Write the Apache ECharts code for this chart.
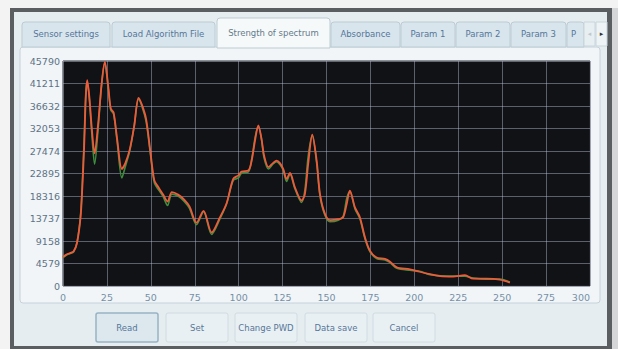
<!DOCTYPE html>
<html><head><meta charset="utf-8">
<script src="https://cdn.jsdelivr.net/npm/echarts@6/dist/echarts.min.js"></script>
<style>html,body{margin:0;padding:0;background:#f4f4f4;}#c{width:618px;height:349px;}</style>
</head><body><div id="c"></div>
<script>
// ---- data ----
const tabLabels = ["Sensor settings","Load Algorithm File","Strength of spectrum","Absorbance","Param 1","Param 2","Param 3","P"];
const buttonLabels = ["Read","Set","Change PWD","Data save","Cancel"];
const xTicks = [0,25,50,75,100,125,150,175,200,225,250,275,300];
const yTicks = [0,4579,9158,13737,18316,22895,27474,32053,36632,41211,45790];

const redX = [0,2,4,6,8,10,11,12,13,13.8,15,16.3,18,20,22,23.8,25.8,27.2,28.8,30.8,33.5,35.5,38,40.5,43,45,47.3,49.7,52,54.5,57,59.5,62,65.5,69,72,76,80,84.6,89.4,93.2,96.9,99.8,101.7,105.5,107.4,109.5,111.2,113,114.5,117,119.5,121.6,123.5,125.4,127.3,129.2,132,135.8,137.7,139.6,141.9,144.4,146.3,149.1,152,156.7,159.5,161.5,163.3,166.2,169,171.9,174.7,178.5,183.3,186,190,197.5,203,209,214.6,222,228.8,233.5,241,248.7,254.4];
const redY = [5900,6400,6700,7000,8800,14000,20000,28000,38500,41900,38500,32500,27000,33000,41200,45600,40500,36100,35300,30000,23800,25000,27800,32500,38300,36800,34000,27500,21500,20000,18600,17200,19100,18600,17600,16200,12900,15300,10900,14000,16900,21800,22500,23300,23500,25500,30000,32700,30000,26500,24200,25000,25500,25000,23800,21800,23000,20100,17400,18700,24900,30800,25500,18700,14700,13400,13600,14000,16700,19400,16000,14000,9900,7200,5800,5500,5000,3800,3400,2900,2400,2000,1900,2200,1500,1500,1300,700];

const greenX = [0,2,4,6,8,10,11,12,13,13.8,15,16.3,18,20,22,23.8,25.8,27.2,28.8,30.8,33.5,35.5,38,40.5,43,45,47.3,49.7,52,54.5,57,59.5,62,65.5,69,72,76,80,84.6,89.4,93.2,96.9,99.8,101.7,105.5,107.4,109.5,111.2,113,114.5,117,119.5,121.6,123.5,125.4,127.3,129.2,132,135.8,137.7,139.6,141.9,144.4,146.3,149.1,152,156.7,159.5,161.5,163.3,166.2,169,171.9,174.7,178.5,183.3,186,190,197.5,203,209,214.6,222,228.8,233.5,241,248.7,254.4];
const greenY = [5800,6300,6600,6900,8900,14500,21000,29500,39500,41600,38000,31500,24800,32000,41000,45400,40000,35800,35000,29500,22000,24300,27500,32500,38000,36500,33500,27000,21000,19500,18200,16400,18700,18300,17200,15800,12500,15100,10500,13700,16800,21500,22000,23000,23200,25800,30500,32500,29800,26000,23800,24800,25300,24700,23500,21300,22800,19800,17000,19500,26500,30600,25000,18300,14400,13100,13400,14200,17800,19200,15700,13700,9600,7000,5600,5300,4800,3600,3200,3000,2300,2100,2000,2000,1600,1400,1400,800];

function pairs(xs, ys){ return xs.map((x,i)=>[x, ys[i]]); }

// ---- UI chrome ----
const FONT = '"DejaVu Sans", sans-serif';
const TXT = '#56769a';
const g = [];
g.push({type:'rect', z:-20, shape:{x:0,y:0,width:618,height:349}, style:{fill:'#f3f3f3'}});
g.push({type:'rect', z:-19, shape:{x:10,y:8,width:602,height:341}, style:{fill:'#5a5e60'}});
g.push({type:'rect', z:-18, shape:{x:14,y:12,width:593,height:334}, style:{fill:'#e6edf0'}});
g.push({type:'rect', z:-18, shape:{x:612,y:8,width:6,height:341}, style:{fill:'#d4d6d7'}});
const tabX = [22,112,217,331,401,456,511,567];
const tabW = [88,103,113,69,54,54,55,17];
tabLabels.forEach((t,i)=>{
  const sel = i===2;
  g.push({type:'rect', z:-15, shape:{x:tabX[i], y: sel?18:22, width:tabW[i], height: sel?30:25, r:[3,3,0,0]},
    style:{fill: sel?'#f5f9fa':'#d8e5ec', stroke:'#bccbd3', lineWidth:1}});
  g.push({type:'text', z:-14, style:{text:t, x:tabX[i]+tabW[i]/2 + (i===7?-2:0), y: sel?33:34, fill: sel?'#66798a':TXT,
    font:'8.5px '+FONT, textAlign:'center', textVerticalAlign:'middle'}});
});
g.push({type:'rect', z:-15, shape:{x:584,y:22,width:11,height:24}, style:{fill:'#e8eff2', stroke:'#c8d5dc'}});
g.push({type:'rect', z:-15, shape:{x:596,y:22,width:11,height:24}, style:{fill:'#eef3f5', stroke:'#c8d5dc'}});
g.push({type:'text', z:-14, style:{text:'\u25C2', x:589.5,y:34, fill:'#c0c8cc', font:'7px '+FONT, textAlign:'center', textVerticalAlign:'middle'}});
g.push({type:'text', z:-14, style:{text:'\u25B8', x:601.5,y:34, fill:'#333', font:'7px '+FONT, textAlign:'center', textVerticalAlign:'middle'}});
g.push({type:'rect', z:-16, shape:{x:20,y:47,width:580,height:256, r:3}, style:{fill:'#f1f5f7', stroke:'#c5d2d9', lineWidth:1}});
const btnX = [96,166,235,305,373];
buttonLabels.forEach((t,i)=>{
  const act = i===0;
  g.push({type:'rect', z:-15, shape:{x:btnX[i], y:313, width:62, height:29, r:2},
    style:{fill: act?'#dce8ee':'#e9f0f3', stroke: act?'#98b2c4':'#d0dce2', lineWidth: act?1.5:1}});
  g.push({type:'text', z:-14, style:{text:t, x:btnX[i]+31, y:327.5, fill:TXT, font:'8.5px '+FONT, textAlign:'center', textVerticalAlign:'middle'}});
});

const chart = echarts.init(document.getElementById('c'), null, {renderer:'svg'});
chart.setOption({
  animation:false,
  backgroundColor:'transparent',
  graphic: g,
  grid:{left:63, top:61, width:527, height:225, show:true, backgroundColor:'#111216', borderColor:'#2a2c33', borderWidth:1},
  xAxis:{type:'value', min:xTicks[0], max:xTicks[xTicks.length-1], interval:25,
    axisLine:{show:false}, axisTick:{show:false},
    axisLabel:{color:'#7590a8', fontSize:9.5, fontFamily:FONT, margin:6, alignMaxLabel:'right', formatter:v=>String(v)},
    splitLine:{show:true, lineStyle:{color:'rgba(185,190,215,0.45)', width:1}}},
  yAxis:{type:'value', min:yTicks[0], max:yTicks[yTicks.length-1], interval:4579,
    axisLine:{show:false}, axisTick:{show:false},
    axisLabel:{color:'#5d7286', fontSize:9.5, fontFamily:FONT, margin:3, formatter:v=>String(v)},
    splitLine:{show:true, lineStyle:{color:'rgba(185,190,215,0.45)', width:1}}},
  series:[
    {type:'line', name:'green', data:pairs(greenX, greenY), smooth:0.3, showSymbol:false, z:3,
      lineStyle:{color:'#3f8f3f', width:1.6}},
    {type:'line', name:'red', data:pairs(redX, redY), smooth:0.3, showSymbol:false, z:4,
      lineStyle:{color:'#ee5a3a', width:1.8}}
  ]
});
</script></body></html>
